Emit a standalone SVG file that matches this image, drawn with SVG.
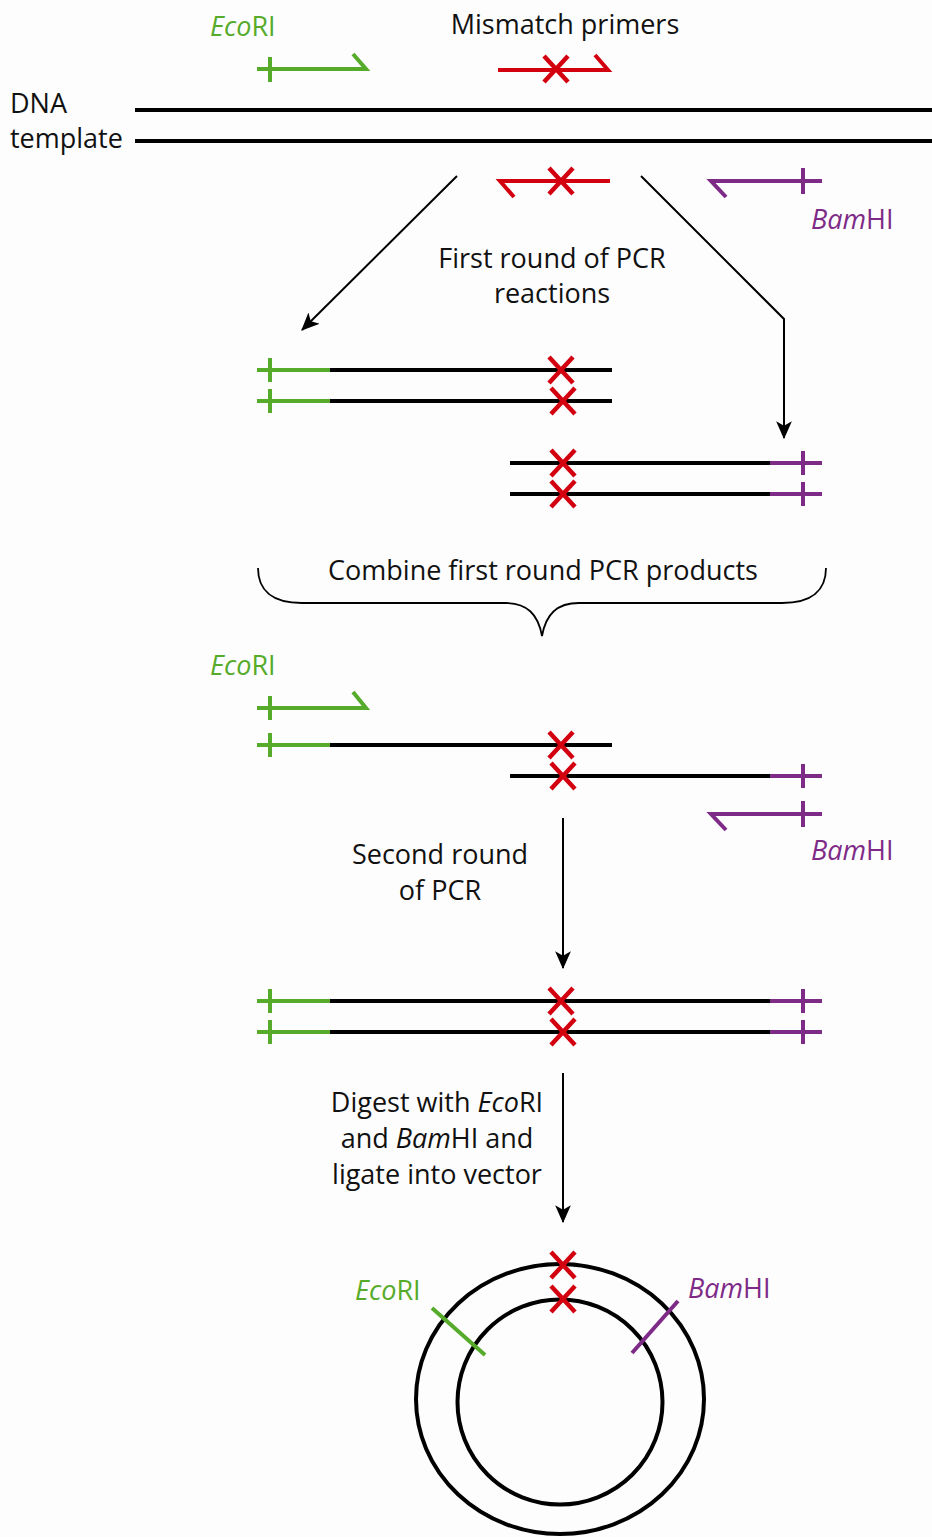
<svg xmlns="http://www.w3.org/2000/svg" xmlns:xlink="http://www.w3.org/1999/xlink" width="932" height="1537" viewBox="0 0 932 1537">
<style>
text{font-family:"Open Sans","Liberation Sans",sans-serif;font-size:27px;fill:#111}
.c{text-anchor:middle}
.gt{fill:#56ab2a}
.pt{fill:#7e2a87}
.it{font-style:italic}
.dna{stroke:#000;stroke-width:4;fill:none}
.g{stroke:#56ab2a;stroke-width:4;fill:none}
.r{stroke:#d3000f;stroke-width:4.5;fill:none}
.p{stroke:#7e2a87;stroke-width:4;fill:none}
.arr{stroke:#000;stroke-width:2;fill:none;marker-end:url(#ah)}
</style>
<defs>
<marker id="ah" markerUnits="userSpaceOnUse" markerWidth="18" markerHeight="16" refX="15" refY="7" orient="auto" viewBox="0 0 16 14">
<path d="M0,0 L16,7 L0,14 L4,7 z" fill="#000"/>
</marker>
<path id="x" class="r" d="M-12,-13 L12,13 M12,-13 L-12,13"/>
</defs>
<rect width="932" height="1537" fill="#fdfdfd"/>

<g id="top-labels">
<text x="210" y="36" class="gt"><tspan class="it">Eco</tspan>RI</text>
<text x="565" y="34" class="c">Mismatch primers</text>
<text x="10" y="113">DNA</text>
<text x="10" y="148">template</text>
<text x="811" y="229" class="pt"><tspan class="it">Bam</tspan>HI</text>
</g>

<g id="template">
<line class="dna" x1="135" y1="110" x2="932" y2="110"/>
<line class="dna" x1="135" y1="141" x2="932" y2="141"/>
</g>

<g id="primers-top">
<path class="g" d="M257,69 H366 L353,54 M270,57 V82"/>
<path class="r" style="stroke-width:4" d="M498,70 H608 L595,55"/>
<use xlink:href="#x" x="556" y="69"/>
<path class="r" style="stroke-width:4" d="M610,181 H500 L514,197"/>
<use xlink:href="#x" x="561" y="181"/>
<path class="p" d="M822,181 H711 L726,197 M803,168 V194"/>
</g>

<g id="connectors">
<line class="arr" x1="457" y1="176" x2="302" y2="330"/>
<polyline class="arr" points="641,176 784,319 784,438"/>
<line class="arr" x1="563" y1="818" x2="563" y2="968"/>
<line class="arr" x1="563" y1="1073" x2="563" y2="1222"/>
<path d="M258,568 C258,590 272,603 302,603 L505,603 C527,603 538,614 542,636 C546,614 557,603 579,603 L782,603 C812,603 826,590 826,568" fill="none" stroke="#000" stroke-width="1.8"/>
</g>

<g id="label-first-round">
<text x="552" y="268" class="c">First round of PCR</text>
<text x="552" y="303" class="c">reactions</text>
</g>

<g id="product-ecori">
<path class="g" d="M257,370 H330 M270,358 V382 M257,401 H330 M270,389 V413"/>
<path class="dna" d="M330,370 H612 M330,401 H612"/>
<use xlink:href="#x" x="561" y="370"/>
<use xlink:href="#x" x="563" y="401"/>
</g>

<g id="product-bamhi">
<path class="dna" d="M510,463 H770 M510,494 H770"/>
<path class="p" d="M770,463 H822 M803,451 V475 M770,494 H822 M803,482 V506"/>
<use xlink:href="#x" x="563" y="463"/>
<use xlink:href="#x" x="563" y="494"/>
</g>

<g id="label-combine">
<text x="543" y="580" class="c">Combine first round PCR products</text>
</g>

<g id="second-round-mix">
<text x="210" y="675" class="gt"><tspan class="it">Eco</tspan>RI</text>
<path class="g" d="M257,708 H366 L353,692 M270,696 V720"/>
<path class="g" d="M257,745 H330 M270,733 V757"/>
<path class="dna" d="M330,745 H612 M510,776 H770"/>
<path class="p" d="M770,776 H822 M803,764 V788"/>
<use xlink:href="#x" x="561" y="745"/>
<use xlink:href="#x" x="563" y="776"/>
<path class="p" d="M822,814 H711 L726,830 M803,801 V827"/>
<text x="811" y="860" class="pt"><tspan class="it">Bam</tspan>HI</text>
</g>

<g id="label-second-round">
<text x="440" y="864" class="c">Second round</text>
<text x="440" y="900" class="c">of PCR</text>
</g>

<g id="full-product">
<path class="g" d="M257,1001 H330 M270,989 V1013 M257,1032 H330 M270,1020 V1044"/>
<path class="dna" d="M330,1001 H770 M330,1032 H770"/>
<path class="p" d="M770,1001 H822 M803,989 V1013 M770,1032 H822 M803,1020 V1044"/>
<use xlink:href="#x" x="561" y="1001"/>
<use xlink:href="#x" x="563" y="1032"/>
</g>

<g id="label-digest">
<text x="437" y="1112" class="c">Digest with <tspan class="it">Eco</tspan>RI</text>
<text x="437" y="1148" class="c">and <tspan class="it">Bam</tspan>HI and</text>
<text x="437" y="1184" class="c">ligate into vector</text>
</g>

<g id="vector">
<ellipse class="dna" cx="560" cy="1399" rx="144" ry="135"/>
<circle class="dna" cx="560" cy="1402" r="102.5"/>
<use xlink:href="#x" x="563" y="1265"/>
<use xlink:href="#x" x="563" y="1299"/>
<line class="g" x1="432" y1="1308" x2="485" y2="1355"/>
<line class="p" x1="678" y1="1301" x2="632" y2="1353"/>
<text x="355" y="1300" class="gt"><tspan class="it">Eco</tspan>RI</text>
<text x="688" y="1298" class="pt"><tspan class="it">Bam</tspan>HI</text>
</g>
</svg>
